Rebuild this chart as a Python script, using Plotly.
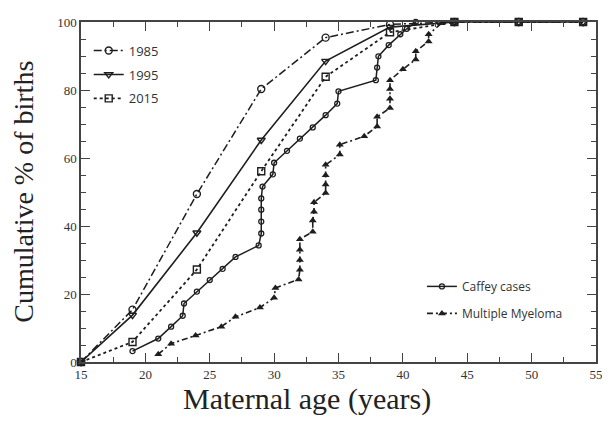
import plotly.graph_objects as go

# ---- data ----
age_1985 = [15, 19, 24, 29, 34, 39, 44, 49, 54]
pct_1985 = [0, 15.4, 49.4, 80.3, 95.4, 99.3, 100, 100, 100]

age_1995 = [15, 19, 24, 29, 34, 39, 44, 49, 54]
pct_1995 = [0, 13.8, 38.0, 65.3, 88.5, 98.5, 100, 100, 100]

age_2015 = [15, 19, 24, 29, 34, 39, 44, 49, 54]
pct_2015 = [0, 5.9, 27.2, 56.1, 83.9, 97.0, 100, 100, 100]

age_caffey = [19, 21, 22, 22.9, 23, 24, 25, 26, 27, 28.8, 29, 29, 29, 29, 29.1,
              29.9, 30, 31, 32, 33, 34, 34.9, 35, 37.9, 38, 38.1, 38.9, 39.8, 40.3, 41]
pct_caffey = [3.2, 6.9, 10.4, 13.6, 17.2, 20.7, 24.1, 27.4, 30.9, 34.3, 37.8, 41.3, 44.8, 48.1, 51.6,
              55.2, 58.6, 62.1, 65.7, 69.0, 72.6, 76.0, 79.6, 82.9, 86.6, 89.9, 93.2, 96.4, 98.0, 100]

age_mm = [21, 22, 23.9, 25.9, 27, 28.9, 30, 30.1, 31.9, 32, 32, 32, 32, 33, 33, 33.1, 33.1,
          34, 34, 34, 34, 35.1, 35.1, 37, 38, 38, 39, 39, 39, 39, 40, 41, 41, 42, 42, 43, 44]
pct_mm = [2.3, 5.4, 7.8, 10.4, 13.3, 16.0, 18.9, 21.8, 24.3, 27.1, 30.0, 33.0, 36.1, 38.3, 41.6, 44.2, 47.0,
          49.7, 52.2, 54.9, 58.0, 61.0, 63.9, 66.4, 69.3, 72.1, 74.7, 77.4, 80.3, 82.9, 86.1, 89.0, 91.4,
          94.3, 96.4, 99.6, 100]

x_ticks = [15, 20, 25, 30, 35, 40, 45, 50, 55]
y_ticks = [0, 20, 40, 60, 80, 100]

x_title = "Maternal age (years)"
y_title = "Cumulative % of births"

INK = "#1e1e1e"

fig = go.Figure()

fig.add_trace(go.Scatter(
    x=age_1985, y=pct_1985, name="1985", mode="lines+markers", legendgroup="a",
    line=dict(color=INK, width=1.5, dash="8px,3px,2px,3px"),
    marker=dict(symbol="circle-open", size=7, color=INK, line=dict(width=1.4)),
    legend="legend", cliponaxis=False))

fig.add_trace(go.Scatter(
    x=age_1995, y=pct_1995, name="1995", mode="lines+markers", legendgroup="b",
    line=dict(color=INK, width=1.6),
    marker=dict(symbol="triangle-down-open", size=7, color=INK, line=dict(width=1.4)),
    legend="legend", cliponaxis=False))

fig.add_trace(go.Scatter(
    x=age_2015, y=pct_2015, name="2015", mode="lines+markers", legendgroup="c",
    line=dict(color=INK, width=1.8, dash="3px,3px"),
    marker=dict(symbol="square-open", size=7, color=INK, line=dict(width=1.4)),
    legend="legend", cliponaxis=False))

fig.add_trace(go.Scatter(
    x=age_caffey, y=pct_caffey, name="Caffey cases", mode="lines+markers", legendgroup="d",
    line=dict(color=INK, width=1.5),
    marker=dict(symbol="circle-open", size=5, color=INK, line=dict(width=1.3)),
    legend="legend2", cliponaxis=False))

fig.add_trace(go.Scatter(
    x=age_mm, y=pct_mm, name="Multiple Myeloma", mode="lines+markers", legendgroup="e",
    line=dict(color=INK, width=1.6, dash="6px,3px,2px,3px"),
    marker=dict(symbol="triangle-up", size=7, color=INK),
    legend="legend2", cliponaxis=False))

axis_common = dict(
    showgrid=False, zeroline=False, showline=True, linecolor="#444", linewidth=1.5,
    mirror="ticks", ticks="inside", tickcolor="#444", tickwidth=1.2,
    tickfont=dict(family="Liberation Serif", size=13, color="#333"),
)

fig.update_layout(
    width=602, height=417,
    margin=dict(l=73, r=7, t=9, b=63),
    paper_bgcolor="white", plot_bgcolor="white",
    xaxis=dict(range=[15, 55], tickvals=x_ticks, ticklen=9,
               minor=dict(dtick=2.5, ticklen=5, ticks="inside", tickcolor="#444"),
               **axis_common),
    yaxis=dict(range=[0, 100], tickvals=y_ticks, ticklen=9,
               minor=dict(dtick=5, ticklen=5, ticks="inside", tickcolor="#444"),
               **axis_common),
    legend=dict(x=0.015, y=0.96, xanchor="left", yanchor="top",
                bgcolor="rgba(0,0,0,0)", font=dict(family="Open Sans", size=13, color="#333"),
                itemwidth=30, tracegroupgap=4),
    legend2=dict(x=0.662, y=0.265, xanchor="left", yanchor="top",
                 bgcolor="rgba(0,0,0,0)", font=dict(family="Open Sans", size=12, color="#333"),
                 itemwidth=30, tracegroupgap=8),
    showlegend=True,
    annotations=[
        dict(text=x_title, xref="paper", yref="paper", x=(310 - 81) / 522, y=-(400 - 362) / 345,
             xanchor="center", yanchor="middle", showarrow=False,
             font=dict(family="Liberation Serif", size=30, color="#222")),
        dict(text=y_title, xref="paper", yref="paper", x=-(81 - 22) / 522, y=0.5,
             xanchor="center", yanchor="middle", showarrow=False, textangle=-90,
             font=dict(family="Liberation Serif", size=28, color="#222")),
    ],
)

fig.write_html("out.html")
